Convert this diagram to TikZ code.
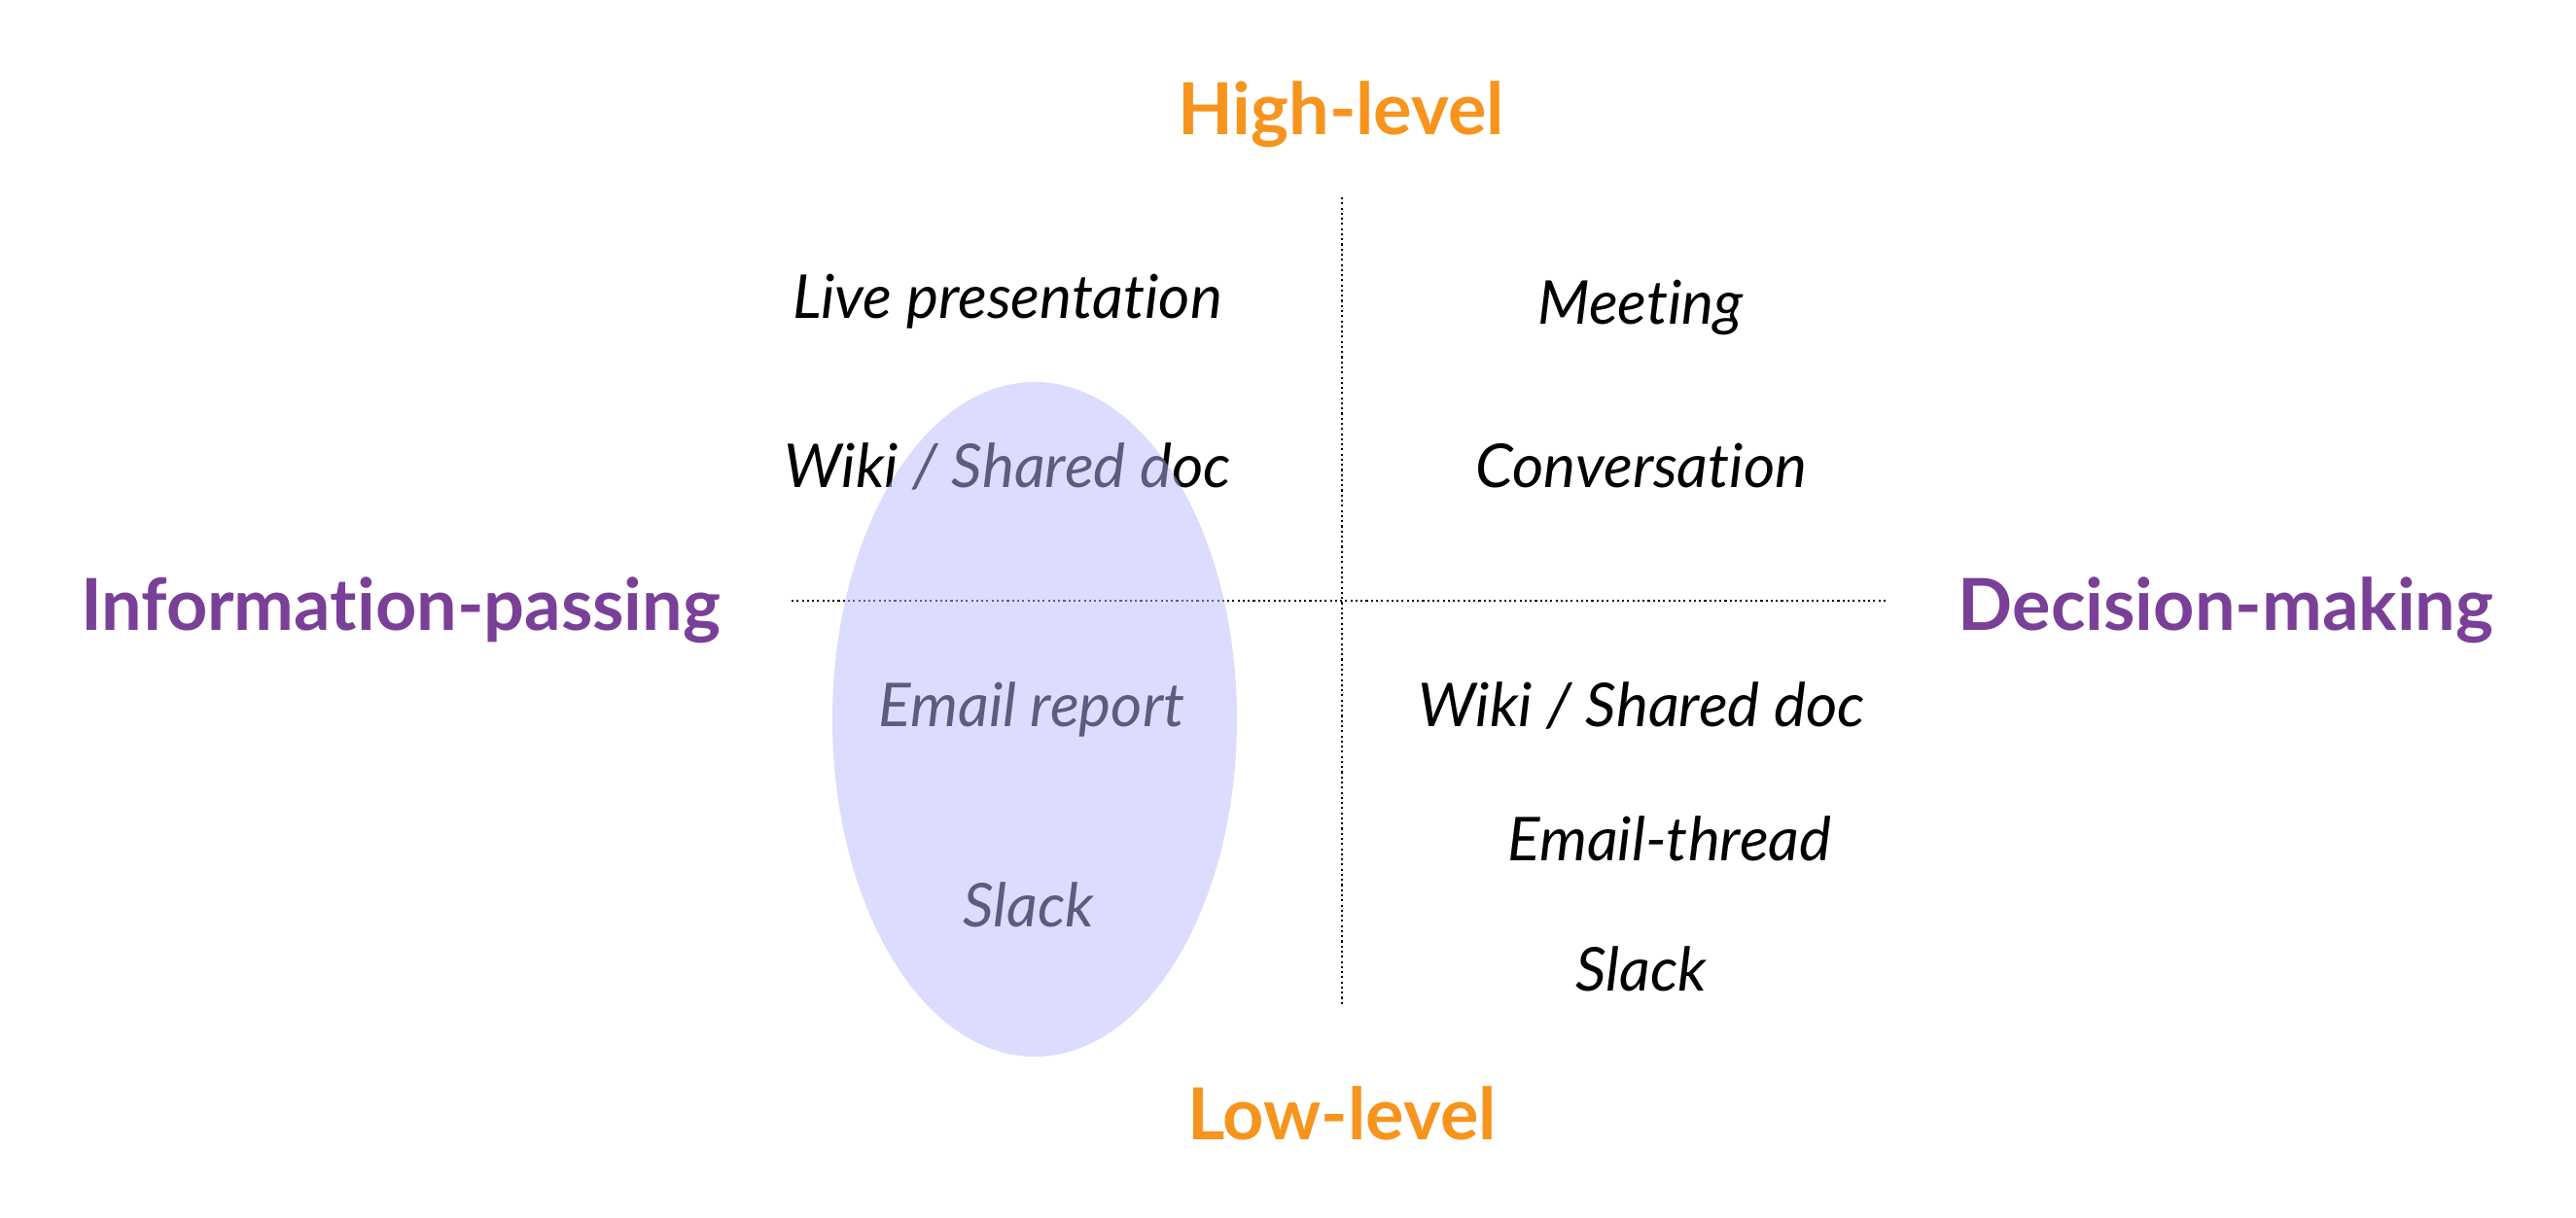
\documentclass[tikz,border=0pt]{standalone}
\usepackage{fontspec}
\setmainfont{Lato}[Ligatures=NoCommon]
\definecolor{nivel}{RGB}{247,148,29}
\definecolor{eje}{RGB}{122,64,152}
\definecolor{burbuja}{RGB}{185,185,255}

\begin{document}
\begin{tikzpicture}[
    every node/.style={inner sep=0pt},
    nivel/.style={font=\fontsize{21}{24}\selectfont\bfseries, text=nivel, anchor=base},
    eje/.style={font=\fontsize{21}{24}\selectfont\bfseries, text=eje, anchor=base},
    canal/.style={font=\fontsize{17.7}{20}\selectfont\itshape, anchor=base},
    corte/.style={black, line width=0.6pt, dash pattern=on 0.6pt off 0.9pt}
]
\useasboundingbox (0,0) rectangle (26.49,12.52);

% =============================================
% Ejes punteados
% =============================================
\coordinate (vtop) at (13.80,10.49);
\coordinate (vbot) at (13.80,2.18);
\coordinate (hizq) at (8.14,6.34);
\coordinate (hder) at (19.39,6.34);
\draw[corte] (vtop) -- (vbot);
\draw[corte] (hizq) -- (hder);

% =============================================
% Etiquetas de los extremos
% =============================================
\node[nivel] (high) at (13.79,11.13) {High-level};
\node[nivel] (low) at (13.80,0.80) {Low-level};
\node[eje] (info) at (4.12,6.03) {Information-passing};
\node[eje] (decision) at (22.89,6.03) {Decision-making};

% =============================================
% Canales por cuadrante
% =============================================
\node[canal] (live) at (10.36,9.24) {Live presentation};
\node[canal] (wikiA) at (10.36,7.50) {Wiki / Shared doc};
\node[canal] (email) at (10.61,5.04) {Email report};
\node[canal] (slackA) at (10.58,2.99) {Slack};

\node[canal] (meeting) at (16.87,9.18) {Meeting};
\node[canal] (conv) at (16.88,7.50) {Conversation};
\node[canal] (wikiB) at (16.88,5.04) {Wiki / Shared doc};
\node[canal] (thread) at (17.17,3.67) {Email-thread};
\node[canal] (slackB) at (16.88,2.33) {Slack};

% =============================================
% Burbuja encima (semitransparente)
% =============================================
\fill[burbuja, opacity=0.5] (10.64,5.12) ellipse (2.08 and 3.47);

\end{tikzpicture}
\end{document}
